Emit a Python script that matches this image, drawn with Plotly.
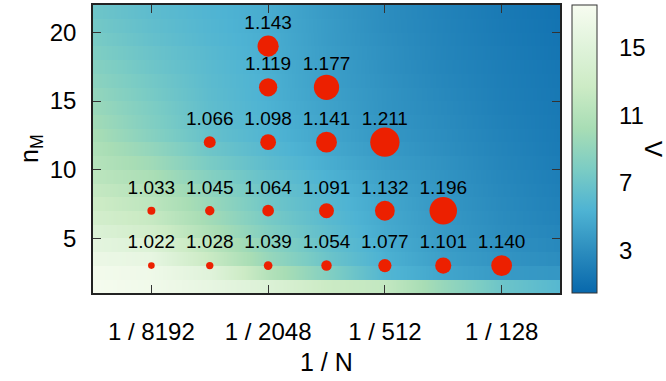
import numpy as np
import plotly.graph_objects as go

# ---- background field V on the (1/N, n_M) grid ----
# columns: N = 16384 ... 64 ; rows: n_M cells [k, k+1], k = 1 ... 21
grid_N = [16384, 8192, 4096, 2048, 1024, 512, 256, 128, 64]
grid_nM = list(range(1, 22))
V = [
    [17.3, 16.8, 15.8, 14.5, 12.6, 12.0, 9.3, 7.0, 5.8],
    [17.0, 16.6, 15.0, 11.0, 8.2, 5.6, 4.5, 3.8, 3.6],
    [16.3, 15.8, 12.4, 9.3, 7.0, 5.2, 4.1, 3.4, 3.0],
    [15.5, 14.6, 11.5, 8.7, 6.6, 5.0, 3.9, 3.2, 2.7],
    [14.5, 13.3, 10.6, 8.1, 6.3, 4.8, 3.8, 3.0, 2.5],
    [13.5, 12.3, 9.9, 7.6, 6.0, 4.7, 3.7, 2.9, 2.3],
    [12.8, 11.6, 9.4, 7.2, 5.8, 4.6, 3.6, 2.8, 2.2],
    [12.2, 11.0, 8.9, 6.9, 5.6, 4.4, 3.5, 2.7, 2.1],
    [11.6, 10.4, 8.3, 6.6, 5.3, 4.2, 3.4, 2.6, 2.0],
    [11.1, 9.8, 7.7, 6.2, 5.0, 4.0, 3.3, 2.5, 1.9],
    [10.7, 9.1, 7.1, 5.8, 4.7, 3.8, 3.1, 2.4, 1.8],
    [10.3, 8.4, 6.6, 5.5, 4.5, 3.6, 3.0, 2.3, 1.75],
    [9.9, 8.1, 6.4, 5.4, 4.4, 3.5, 2.9, 2.2, 1.7],
    [9.5, 7.9, 6.3, 5.3, 4.3, 3.4, 2.8, 2.1, 1.65],
    [9.1, 7.6, 6.2, 5.2, 4.2, 3.4, 2.7, 2.05, 1.6],
    [8.7, 7.4, 6.1, 5.2, 4.1, 3.3, 2.6, 2.0, 1.55],
    [8.4, 7.1, 6.0, 5.1, 4.1, 3.2, 2.5, 1.95, 1.5],
    [8.0, 6.9, 5.9, 5.0, 4.0, 3.2, 2.45, 1.9, 1.4],
    [7.7, 6.6, 5.7, 5.0, 3.9, 3.1, 2.4, 1.8, 1.35],
    [7.4, 6.4, 5.6, 4.9, 3.9, 3.0, 2.35, 1.75, 1.3],
    [7.1, 6.2, 5.5, 4.9, 3.8, 3.0, 2.3, 1.7, 1.25],
]

# ---- measured ratios at sampled (N, n_M) ----
pts_N = [8192, 4096, 2048, 1024, 512, 256, 128,
         8192, 4096, 2048, 1024, 512, 256,
         4096, 2048, 1024, 512,
         2048, 1024,
         2048]
pts_nM = [3] * 7 + [7] * 6 + [12] * 4 + [16] * 2 + [19]
ratio = [1.022, 1.028, 1.039, 1.054, 1.077, 1.101, 1.140,
         1.033, 1.045, 1.064, 1.091, 1.132, 1.196,
         1.066, 1.098, 1.141, 1.211,
         1.119, 1.177,
         1.143]

tick_N = [8192, 2048, 512, 128]
cbar_ticks = [3, 7, 11, 15]
ZMIN, ZMAX = 0.5, 17.5

# x coordinate: log2(1/N)
gx = -np.log2(np.array(grid_N, dtype=float))
px = -np.log2(np.array(pts_N, dtype=float))
py = np.array(pts_nM, dtype=float)
r = np.array(ratio)

# each n_M row is a flat band in y, smooth along x
Z = np.repeat(np.array(V), 2, axis=0)
gy = np.ravel([[k + 0.02, k + 0.98] for k in grid_nM])

gnbu = ['#0868ac', '#2b8cbe', '#4eb3d3', '#7bccc4',
        '#a8ddb5', '#ccebc5', '#e0f3db', '#f7fcf0']
cscale = [[i / (len(gnbu) - 1), c] for i, c in enumerate(gnbu)]

FONT = "Liberation Sans, Arial, sans-serif"
TICK_SIZE = 24

# plot-area geometry (pixels) used for the colour bar placement
PL, PR, PT, PB = 93, 560, 3, 293
CB_L, CB_R = 572, 597
pw, ph = PR - PL, PB - PT

fig = go.Figure()
fig.add_trace(go.Heatmap(
    x=gx, y=gy, z=Z, zsmooth='best', colorscale=cscale,
    zmin=ZMIN, zmax=ZMAX, hoverinfo='skip',
    colorbar=dict(
        thickness=CB_R - CB_L, len=1.0, lenmode='fraction', y=0.5,
        yanchor='middle', x=(CB_L - PL) / pw, xanchor='left', xpad=0, ypad=0,
        outlinewidth=1, outlinecolor='#333',
        tickvals=cbar_ticks, ticks='', showticklabels=False,
    ),
))
fig.add_trace(go.Scatter(
    x=px, y=py, mode='markers',
    marker=dict(size=4 + 120 * (r - 1), color='#ec2000', opacity=1,
                line=dict(width=0)),
    hoverinfo='skip', showlegend=False,
))
fig.add_trace(go.Scatter(
    x=px, y=py + 1.6, mode='text', text=[f"{v:.3f}" for v in ratio],
    textposition='middle center',
    textfont=dict(size=19, color='black', family=FONT),
    hoverinfo='skip', showlegend=False,
))

axis_common = dict(
    showgrid=False, zeroline=False, showline=True, linecolor='#222',
    linewidth=1.5, mirror='ticks', ticks='inside', ticklen=8,
    tickcolor='#333', tickfont=dict(size=TICK_SIZE, color='black', family=FONT),
)
fig.update_xaxes(
    range=[-14, -6], tickvals=[-np.log2(n) for n in tick_N],
    ticktext=[f"1 / {n}" for n in tick_N], ticklabelstandoff=16,
    **axis_common,
)
fig.update_yaxes(
    range=[1, 22], tickvals=[5, 10, 15, 20], ticklabelstandoff=10,
    **axis_common,
)

# colour-bar tick dashes on both edges and their labels
shapes = []
annotations = []
for t in cbar_ticks:
    yp = (t - ZMIN) / (ZMAX - ZMIN)
    for x0, x1 in ((CB_L, CB_L + 6), (CB_R - 6, CB_R)):
        shapes.append(dict(type='line', xref='paper', yref='paper',
                           x0=(x0 - PL) / pw, x1=(x1 - PL) / pw, y0=yp, y1=yp,
                           line=dict(color='#333', width=1.2)))
    annotations.append(dict(text=str(t), xref='paper', yref='paper',
                            x=(CB_R + 20 - PL) / pw, y=yp, xanchor='left',
                            yanchor='middle', showarrow=False,
                            font=dict(size=TICK_SIZE)))

annotations += [
    dict(text="1 / N", xref='paper', yref='paper', x=0.5, y=-0.24,
         xanchor='center', yanchor='middle', showarrow=False,
         font=dict(size=25)),
    dict(text="n<sub>M</sub>", xref='paper', yref='paper',
         x=(31 - PL) / pw, y=0.5, xanchor='center', yanchor='middle',
         textangle=-90, showarrow=False, font=dict(size=25)),
    dict(text="V", xref='paper', yref='paper', x=(654 - PL) / pw,
         y=(PB - 148) / ph, xanchor='center', yanchor='middle',
         textangle=90, showarrow=False, font=dict(size=24)),
]

fig.update_layout(
    width=666, height=381,
    margin=dict(l=PL, r=666 - PR, t=PT, b=381 - PB),
    paper_bgcolor='white', plot_bgcolor='white',
    font=dict(family=FONT, color='black'),
    showlegend=False, shapes=shapes, annotations=annotations,
)

fig.write_html("out.html")
